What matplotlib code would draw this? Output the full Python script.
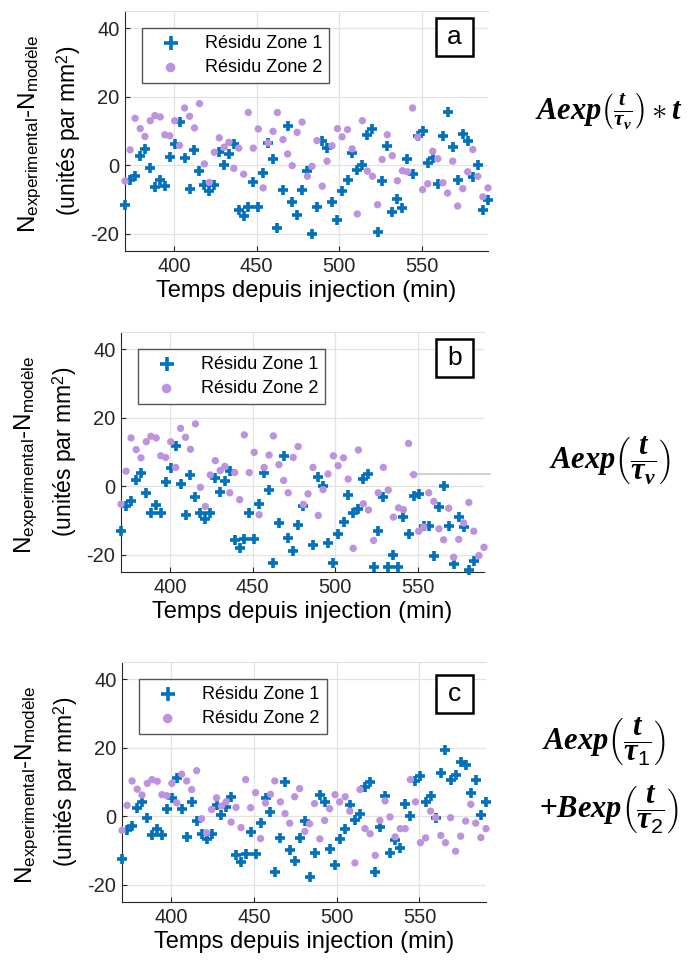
import numpy as np
import matplotlib
matplotlib.use("Agg")
import matplotlib.pyplot as plt
import matplotlib.patches as patches

plt.rcParams['font.family'] = ['Liberation Sans', 'DejaVu Sans']
plt.rcParams['axes.unicode_minus'] = False
plt.rcParams['mathtext.fontset'] = 'custom'
plt.rcParams['mathtext.rm'] = 'Liberation Sans'
plt.rcParams['mathtext.it'] = 'Liberation Serif:italic:bold'
plt.rcParams['mathtext.bf'] = 'Liberation Serif:bold'

# time since injection (min), shared by all panels
times = [370.3, 373.4, 376.4, 379.5, 382.4, 385.6, 388.4, 391.6, 394.4, 397.4,
         400.4, 403.4, 406.4, 409.4, 412.4, 415.4, 418.4, 421.4, 424.4, 427.4,
         430.4, 433.2, 436.2, 439.2, 442.2, 445.0, 448.0, 451.0, 454.0, 457.0,
         460.0, 462.6, 466.0, 468.8, 471.6, 474.6, 477.6, 480.8, 483.6, 486.6,
         489.8, 492.7, 495.7, 499.0, 501.8, 505.1, 507.9, 511.0, 514.1, 517.1,
         520.2, 523.3, 526.1, 529.2, 532.2, 535.3, 538.4, 541.4, 544.5, 547.6,
         550.6, 553.7, 556.7, 559.8, 562.9, 565.7, 568.8, 571.8, 574.9, 577.9,
         581.0, 584.0, 587.1, 590.2]

# panel a residuals
zone1_a = [-11.6, -4.2, -3.2, 2.6, 4.8, -0.8, -6.3, -4.4, -6.1, 2.4,
           6.2, 12.6, 2.1, -6.8, 4.6, -1.7, -5.8, -7.4, -5.8, 3.8,
           0.2, 3.4, 6.3, -12.9, -14.9, -12.2, -5.0, -12.2, -2.2, 6.5,
           1.7, -18.3, -7.3, 11.4, -10.8, -14.6, -7.1, -1.6, -20.0, -12.1,
           7.0, 5.0, -10.7, -16.1, -7.6, -4.2, 3.6, -1.3, 0.2, 8.9,
           10.7, -19.4, -4.5, 5.5, -13.6, -9.7, -12.6, 1.7, -2.5, 8.4,
           9.9, 0.7, 2.1, -5.4, 8.6, 15.4, 5.2, -4.2, 9.2, 7.2,
           -3.4, 0.0, -12.9, -10.2]
zone2_a = [-4.6, 4.5, 13.7, 10.7, 8.4, 13.0, 14.5, 14.1, 8.9, 8.6,
           13.0, 5.8, 16.7, 14.3, 10.9, 18.0, 0.4, -5.0, 3.8, 8.0,
           5.3, 6.7, -0.9, 5.0, -2.6, 15.4, 5.0, 10.6, -6.6, 6.5,
           9.9, 15.4, 7.5, 3.3, -0.1, 9.6, 12.6, -3.2, -0.3, 7.2,
           -6.1, 1.2, 5.7, 10.7, 8.3, 10.4, 4.8, -14.2, 13.0, -1.7,
           -3.2, -11.5, 1.7, 8.9, 2.8, -4.5, -1.6, -1.9, 16.7, 8.2,
           -7.1, -5.4, 4.1, 1.9, -5.1, -8.1, 1.2, -11.9, -6.8, -1.9,
           4.6, -3.2, -9.2, -6.6]

# panel b residuals
zone1_b = [-13.0, -5.7, -4.4, 1.9, 4.0, -1.9, -7.8, -5.6, -7.8, 1.2,
           5.2, 11.8, 0.7, -8.5, 3.3, -3.2, -7.8, -9.5, -7.8, 2.3,
           -1.6, 1.5, 4.6, -15.6, -18.0, -15.3, -7.8, -15.3, -5.1, 3.8,
           -1.1, -22.3, -10.7, 8.7, -15.1, -19.0, -11.3, -5.8, -26.5, -17.2,
           2.6, 0.2, -16.5, -22.4, -13.9, -10.3, -2.4, -7.9, -6.6, 2.1,
           3.6, -23.6, -13.1, -3.0, -23.6, -20.0, -23.6, -9.0, -13.9, -2.9,
           -2.2, -11.5, -11.7, -20.3, -6.1, 0.2, -11.5, -22.8, -9.0, -11.9,
           -24.3, -21.7, -34.0, -32.0]
zone2_b = [-5.2, 4.4, 14.1, 10.7, 8.3, 13.0, 14.6, 14.1, 8.9, 8.4,
           13.0, 5.5, 16.9, 14.3, 10.8, 18.2, -0.3, -5.9, 3.3, 7.5,
           4.6, 5.8, -1.9, 4.0, -3.9, 15.0, 4.0, 9.9, -8.3, 5.5,
           9.1, 14.7, 6.3, 1.7, -1.9, 8.4, 11.6, -5.3, -2.2, 5.5,
           -8.5, -1.0, 3.6, 8.9, 6.0, 8.3, 2.1, -18.1, 10.6, -5.1,
           -6.9, -15.8, -1.9, 5.5, -1.1, -9.0, -6.3, -6.8, 12.5, 3.4,
           -13.1, -11.9, -1.9, -4.4, -12.4, -15.6, -6.4, -20.7, -15.5, -10.7,
           -4.7, -13.1, -20.2, -17.8]

# panel c residuals
zone1_c = [-12.6, -3.9, -2.8, 2.4, 4.2, -0.6, -5.5, -3.8, -5.6, 2.0,
           5.4, 11.2, 2.0, -5.9, 4.2, -1.4, -5.1, -6.5, -5.1, 3.4,
           0.3, 2.7, 5.5, -11.4, -13.2, -10.9, -4.6, -10.9, -2.1, 5.4,
           1.3, -16.3, -6.3, 9.9, -9.8, -13.1, -6.3, -1.4, -17.6, -10.7,
           6.1, 4.2, -9.5, -14.1, -6.5, -3.6, 3.4, -1.0, 0.8, 8.4,
           10.0, -16.3, -3.1, 6.0, -10.6, -7.0, -9.3, 3.5, 0.1, 10.3,
           11.7, 4.2, 6.0, -0.5, 12.7, 19.3, 10.7, 12.0, 15.9, 15.1,
           6.9, 10.7, 0.5, 4.2]
zone2_c = [-4.1, 3.2, 10.3, 7.9, 6.2, 9.6, 10.7, 10.2, 6.3, 6.0,
           9.6, 3.9, 12.3, 10.3, 7.8, 13.3, -0.7, -4.8, 2.0, 5.4,
           3.0, 4.2, -1.7, 2.6, -3.3, 10.7, 2.5, 6.9, -6.5, 3.9,
           6.4, 10.3, 4.2, 0.8, -2.0, 5.7, 8.1, -4.4, -2.2, 3.7,
           -6.6, -1.2, 2.2, 6.3, 4.2, 5.7, 1.5, -13.6, 7.8, -3.6,
           -5.1, -11.4, -1.2, 4.5, -0.2, -6.0, -3.6, -3.6, 10.7, 4.2,
           -7.7, -6.3, 1.5, -0.4, -5.6, -7.7, -0.4, -10.2, -5.8, -1.4,
           3.5, -2.0, -6.2, -3.6]

panel_letters = ['a', 'b', 'c']
x_ticks = [400, 450, 500, 550]
y_ticks = [-20, 0, 20, 40]
y_limits = (-25, 45)

BLUE = '#0072BD'
PURPLE = '#BE93DE'
DARK = '#262626'

fig = plt.figure(figsize=(6.88, 9.67), dpi=100)

# axes rectangles in pixels: left, top, right, bottom
px_boxes = [(125, 11, 488, 251), (121, 332, 484, 572), (122, 662, 486, 902)]
letter_pos = [(0.908, 0.892), (0.919, 0.890), (0.913, 0.868)]

t = np.array(times)
series = [(zone1_a, zone2_a), (zone1_b, zone2_b), (zone1_c, zone2_c)]

for i, (z1, z2) in enumerate(series):
    l, top, r, b = px_boxes[i]
    ax = fig.add_axes([l / 688, 1 - b / 967, (r - l) / 688, (b - top) / 967])
    ax.set_xlim(times[0], times[-1])
    ax.set_ylim(*y_limits)
    ax.set_xticks(x_ticks)
    ax.set_yticks(y_ticks)
    ax.grid(True, color='#e3e3e3', lw=0.9)
    ax.set_axisbelow(True)
    for s in ['left', 'bottom']:
        ax.spines[s].set_color(DARK)
        ax.spines[s].set_linewidth(0.8)
    ax.spines['right'].set_visible(False)
    ax.spines['top'].set_color('#e0e0e0')
    ax.tick_params(direction='in', length=3.5, width=0.8, colors=DARK,
                   labelsize=14.5, top=False, right=False, pad=4)

    y1 = np.array(z1)
    y2 = np.array(z2)
    m1 = (y1 >= y_limits[0]) & (y1 <= y_limits[1])
    m2 = (y2 >= y_limits[0]) & (y2 <= y_limits[1])
    ax.scatter(t[m1], y1[m1], marker='+', s=55, linewidths=2.6, color=BLUE,
               label='Résidu Zone 1', clip_on=False, zorder=3)
    ax.scatter(t[m2], y2[m2], marker='o', s=28, color=PURPLE, edgecolors='none',
               label='Résidu Zone 2', clip_on=False, zorder=3)

    leg = ax.legend(loc='upper left', bbox_to_anchor=(0.046, 0.93), borderaxespad=0,
                    fontsize=13, handlelength=2.4, handletextpad=0.7, borderpad=0.4,
                    labelspacing=0.4, fancybox=False, framealpha=1, edgecolor='#555555',
                    markerscale=1.3)
    leg.get_frame().set_linewidth(1.0)

    ax.set_xlabel('Temps depuis injection (min)', fontsize=17, labelpad=3)
    ax.text(-0.262, 0.49, r'N$_{\mathrm{experimental}}$-N$_{\mathrm{modèle}}$',
            rotation=90, ha='center', va='center', fontsize=17.5,
            transform=ax.transAxes)
    ax.text(-0.154, 0.5, r'(unités par mm$^{\mathrm{2}}$)', rotation=90,
            ha='center', va='center', fontsize=16.5, transform=ax.transAxes)

    # panel letter in a square box
    cx, cy = letter_pos[i]
    w, h = 37 / (r - l), 38 / (b - top)
    ax.add_patch(patches.Rectangle((cx - w / 2, cy - h / 2), w, h, transform=ax.transAxes,
                                   fill=True, facecolor='white', edgecolor='black',
                                   lw=1.8, zorder=5))
    ax.text(cx, cy, panel_letters[i], ha='center', va='center', fontsize=19,
            transform=ax.transAxes, zorder=6)

    if i == 1:
        # stray grey line in the original panel b
        ax.plot([545.5, 594.0], [3.6, 3.6], color='#c8c8c8', lw=1.2, clip_on=False)

# model formulas
fig.text(609 / 688, 1 - 111 / 967, r'$Aexp\left(\frac{t}{\tau_v}\right)\ast t$',
         ha='center', va='center', fontsize=22)
fig.text(610 / 688, 1 - 461 / 967, r'$Aexp\left(\dfrac{t}{\tau_v}\right)$',
         ha='center', va='center', fontsize=22)
fig.text(542 / 688, 1 - 742 / 967, r'$Aexp\left(\dfrac{t}{\tau_1}\right)$',
         ha='left', va='center', fontsize=22)
fig.text(539 / 688, 1 - 810 / 967, r'$+Bexp\left(\dfrac{t}{\tau_2}\right)$',
         ha='left', va='center', fontsize=22)

fig.savefig('out.png', dpi=100)
